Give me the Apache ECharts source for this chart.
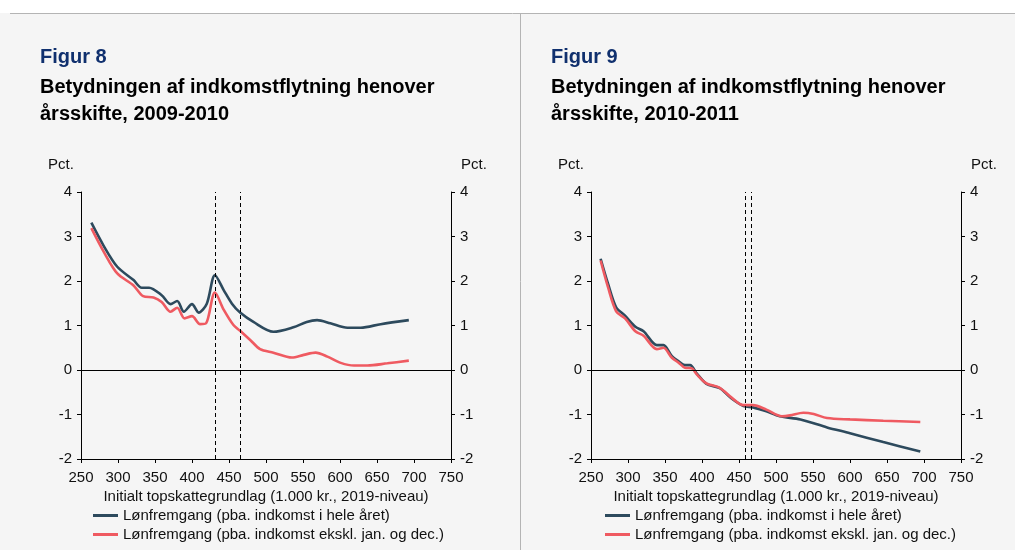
<!DOCTYPE html>
<html>
<head>
<meta charset="utf-8">
<script src="https://cdn.jsdelivr.net/npm/echarts@6/dist/echarts.min.js"></script>
<style>
  html, body { margin: 0; padding: 0; background: #fff; }
  #main { width: 1015px; height: 550px; }
</style>
</head>
<body>
<div id="main"></div>
<script>
// data (x = 1.000 kr., y = pct.)
var xTicks = [250, 300, 350, 400, 450, 500, 550, 600, 650, 700, 750];
var yTicks = [-2, -1, 0, 1, 2, 3, 4];

// Figur 8, 2009-2010
var f8DarkX = [264, 281, 299, 321, 332, 342, 359, 371, 380, 389, 400, 409, 420, 431, 443, 454, 465, 483, 510, 537, 555, 569, 587, 610, 628, 655, 693];
var f8DarkY = [3.31, 2.78, 2.32, 2.02, 1.85, 1.85, 1.68, 1.48, 1.55, 1.31, 1.48, 1.29, 1.49, 2.13, 1.79, 1.49, 1.29, 1.08, 0.86, 0.96, 1.08, 1.12, 1.05, 0.95, 0.95, 1.03, 1.12];
var f8RedX = [264, 281, 299, 321, 334, 348, 359, 371, 380, 390, 400, 411, 419, 431, 443, 456, 465, 479, 492, 510, 535, 551, 567, 583, 601, 619, 637, 664, 693];
var f8RedY = [3.19, 2.65, 2.17, 1.90, 1.66, 1.63, 1.53, 1.31, 1.40, 1.16, 1.21, 1.03, 1.05, 1.74, 1.35, 1.01, 0.88, 0.67, 0.47, 0.39, 0.28, 0.34, 0.39, 0.30, 0.16, 0.10, 0.10, 0.15, 0.21];
var f8Cuts = [431.5, 465];

// Figur 9, 2010-2011
var f9DarkX = [263, 273, 284, 296, 310, 321, 339, 348, 359, 368, 377, 384, 393, 406, 424, 440, 456, 469, 487, 505, 533, 569, 600, 645, 695];
var f9DarkY = [2.50, 1.94, 1.41, 1.22, 0.97, 0.87, 0.56, 0.56, 0.32, 0.20, 0.11, 0.11, -0.08, -0.31, -0.41, -0.64, -0.81, -0.84, -0.93, -1.04, -1.11, -1.29, -1.42, -1.62, -1.83];
var f9RedX = [263, 273, 284, 296, 310, 321, 339, 348, 359, 368, 377, 386, 393, 406, 424, 440, 456, 469, 487, 508, 519, 537, 551, 569, 600, 645, 695];
var f9RedY = [2.46, 1.86, 1.32, 1.16, 0.87, 0.77, 0.47, 0.50, 0.28, 0.17, 0.05, 0.04, -0.10, -0.30, -0.40, -0.62, -0.79, -0.79, -0.89, -1.04, -1.02, -0.96, -0.99, -1.08, -1.11, -1.14, -1.17];
var f9Cuts = [458, 466];

var nameDark = 'Lønfremgang (pba. indkomst i hele året)';
var nameRed = 'Lønfremgang (pba. indkomst ekskl. jan. og dec.)';
var xName = 'Initialt topskattegrundlag (1.000 kr., 2019-niveau)';

var FONT = 'Liberation Sans, Arial, sans-serif';
var DARK = '#2d4a5d';
var RED = '#ef5a61';
var FS = 15;

function zip(xs, ys) {
  var out = [];
  for (var i = 0; i < xs.length; i++) out.push([xs[i], ys[i]]);
  return out;
}

function xAxisFor(grid) {
  return {
    type: 'value', gridIndex: grid,
    min: xTicks[0], max: xTicks[xTicks.length - 1], interval: 50,
    name: xName, nameLocation: 'middle', nameGap: 30,
    nameTextStyle: { color: '#111', fontSize: FS, fontFamily: FONT },
    axisLine: { onZero: false, lineStyle: { color: '#000', width: 1 } },
    axisTick: { show: true, length: 4, lineStyle: { color: '#000' } },
    axisLabel: { color: '#111', fontSize: FS, fontFamily: FONT, margin: 11 },
    splitLine: { show: false }
  };
}

function yAxisFor(grid, pos) {
  return {
    type: 'value', gridIndex: grid, position: pos,
    min: yTicks[0], max: yTicks[yTicks.length - 1], interval: 1,
    axisLine: { show: true, onZero: false, lineStyle: { color: '#000', width: 1 } },
    axisTick: { show: true, length: 4, lineStyle: { color: '#000' } },
    axisLabel: { color: '#111', fontSize: FS, fontFamily: FONT, margin: 9 },
    splitLine: { show: false }
  };
}

function lineSeries(name, color, data, grid, cuts) {
  var s = {
    name: name, type: 'line', xAxisIndex: grid, yAxisIndex: grid * 2,
    data: data, smooth: 0.3, symbol: 'none', showSymbol: false,
    lineStyle: { color: color, width: 2.6 }, itemStyle: { color: color },
    silent: true, z: 3
  };
  if (cuts) {
    var lines = cuts.map(function (c) { return { xAxis: c, lineStyle: { type: [4, 3], color: '#000', width: 1 } }; });
    lines.push({ yAxis: 0, lineStyle: { type: 'solid', color: '#000', width: 1 } });
    s.markLine = { symbol: 'none', silent: true, label: { show: false }, data: lines, animation: false };
  }
  return s;
}

function legendAt(left) {
  return {
    left: left, top: 508, orient: 'vertical', icon: 'rect',
    itemWidth: 25, itemHeight: 3, itemGap: 4, itemTextGap: 3,
    padding: 0, selectedMode: false,
    textStyle: { color: '#111', fontSize: FS, fontFamily: FONT },
    data: [nameDark, nameRed]
  };
}

function titleAt(left, fig, years) {
  return {
    text: fig, left: left, top: 46, padding: 0, itemGap: 6,
    textStyle: { color: '#10306e', fontSize: 20, fontWeight: 'bold', lineHeight: 22 },
    subtext: 'Betydningen af indkomstflytning henover\nårsskifte, ' + years,
    subtextStyle: { color: '#000', fontSize: 20, fontWeight: 'bold', lineHeight: 27 }
  };
}

var myChart = echarts.init(document.getElementById('main'), null, { renderer: 'canvas' });

var option = {
  backgroundColor: '#f5f5f5',
  animation: false,
  textStyle: { fontFamily: FONT },
  title: [titleAt(40, 'Figur 8', '2009-2010'), titleAt(551, 'Figur 9', '2010-2011')],
  grid: [
    { left: 81, top: 192, width: 370, height: 267 },
    { left: 591, top: 192, width: 370, height: 267 }
  ],
  xAxis: [xAxisFor(0), xAxisFor(1)],
  yAxis: [yAxisFor(0, 'left'), yAxisFor(0, 'right'), yAxisFor(1, 'left'), yAxisFor(1, 'right')],
  legend: [legendAt(93), legendAt(605)],
  graphic: [
    { type: 'rect', shape: { x: 0, y: 0, width: 1015, height: 13 }, style: { fill: '#fff' }, silent: true },
    { type: 'line', shape: { x1: 10, y1: 13.5, x2: 1015, y2: 13.5 }, style: { stroke: '#b4b4b4', lineWidth: 1 }, silent: true },
    { type: 'line', shape: { x1: 520.5, y1: 13, x2: 520.5, y2: 550 }, style: { stroke: '#b4b4b4', lineWidth: 1 }, silent: true },
    { type: 'text', x: 48, y: 165, style: { text: 'Pct.', fill: '#111', font: FS + 'px ' + FONT, verticalAlign: 'middle' } },
    { type: 'text', x: 461, y: 165, style: { text: 'Pct.', fill: '#111', font: FS + 'px ' + FONT, verticalAlign: 'middle' } },
    { type: 'text', x: 558, y: 165, style: { text: 'Pct.', fill: '#111', font: FS + 'px ' + FONT, verticalAlign: 'middle' } },
    { type: 'text', x: 971, y: 165, style: { text: 'Pct.', fill: '#111', font: FS + 'px ' + FONT, verticalAlign: 'middle' } }
  ],
  series: [
    lineSeries(nameDark, DARK, zip(f8DarkX, f8DarkY), 0, f8Cuts),
    lineSeries(nameRed, RED, zip(f8RedX, f8RedY), 0, null),
    // right panel: yAxisIndex 2 is its left axis
    lineSeries(nameDark, DARK, zip(f9DarkX, f9DarkY), 1, f9Cuts),
    lineSeries(nameRed, RED, zip(f9RedX, f9RedY), 1, null)
  ]
};

myChart.setOption(option);
</script>
</body>
</html>
